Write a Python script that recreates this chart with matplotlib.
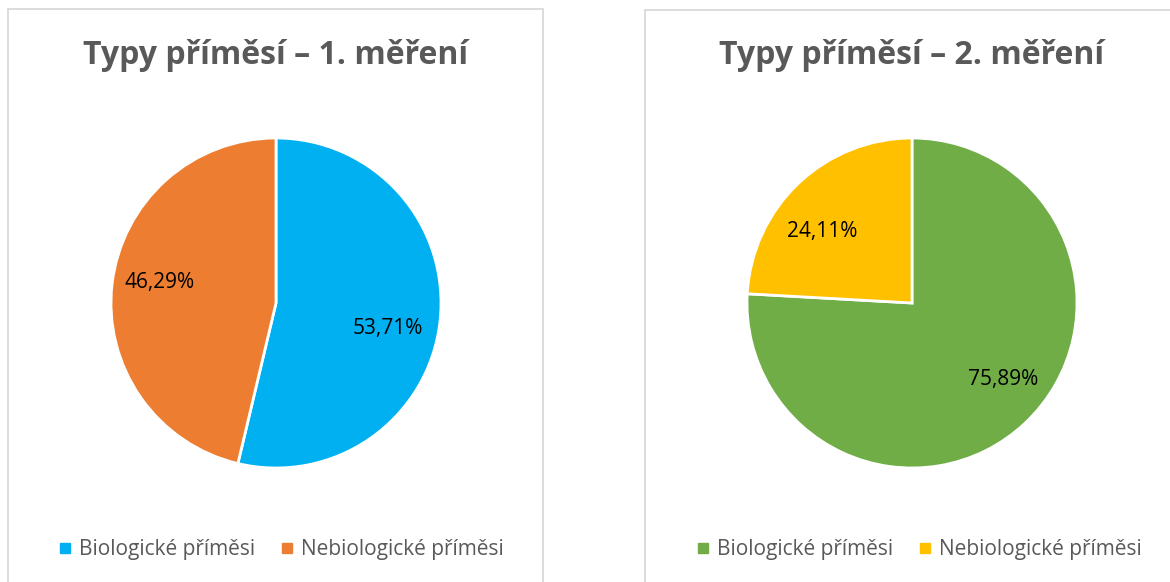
import matplotlib
matplotlib.use("Agg")
import matplotlib.pyplot as plt
from matplotlib.patches import Rectangle
from matplotlib.lines import Line2D
import numpy as np

titles = ["Typy příměsí – 1. měření", "Typy příměsí – 2. měření"]
categories = ["Biologické příměsi", "Nebiologické příměsi"]
values_1 = [53.71, 46.29]
values_2 = [75.89, 24.11]
labels_1 = ["53,71%", "46,29%"]
labels_2 = ["75,89%", "24,11%"]
colors_1 = ["#00B0F0", "#ED7D31"]
colors_2 = ["#70AD47", "#FFC000"]

W, H = 1170, 582
fig = plt.figure(figsize=(W / 100, H / 100), dpi=100)
plt.rcParams['font.family'] = ['Open Sans', 'DejaVu Sans']

def px_rect(x0, y0, x1, y1):
    return [x0 / W, 1 - y1 / H, (x1 - x0) / W, (y1 - y0) / H]

# panel borders
for (x0, y0, x1, y1) in [(8, 9, 543, 600), (645, 10, 1190, 600)]:
    fig.patches.append(Rectangle((x0 / W, 1 - y1 / H), (x1 - x0) / W, (y1 - y0) / H,
                                 transform=fig.transFigure, fill=False,
                                 edgecolor="#D9D9D9", linewidth=1.3))

panels = [
    dict(cx=276, vals=values_1, labs=labels_1, cols=colors_1, title=titles[0],
         dists=[0.696, 0.72], offs=[-5.9, -3.5], title_x=276, leg_x=282),
    dict(cx=912, vals=values_2, labs=labels_2, cols=colors_2, title=titles[1],
         dists=[0.719, 0.695], offs=[6.7, 8.3], title_x=912, leg_x=920),
]

for p in panels:
    cx, cy, r = p["cx"], 303, 165
    ax = fig.add_axes(px_rect(cx - r, cy - r, cx + r, cy + r))
    wedges, _ = ax.pie(p["vals"], colors=p["cols"], startangle=90, counterclock=False,
                       radius=1.0, wedgeprops=dict(edgecolor="white", linewidth=2))
    for w, lab, d, o in zip(wedges, p["labs"], p["dists"], p["offs"]):
        ang = np.deg2rad((w.theta1 + w.theta2) / 2 + o)
        ax.text(d * np.cos(ang), d * np.sin(ang), lab, ha="center", va="center",
                fontsize=15, color="black")
    ax.set_xlim(-1, 1)
    ax.set_ylim(-1, 1)
    ax.set_aspect("equal")
    ax.axis("off")

    fig.text(p["title_x"] / W, 1 - 56 / H, p["title"], ha="center", va="center",
             fontsize=23, fontweight="bold", color="#595959")

    handles = [Line2D([], [], marker="s", linestyle="none", markersize=7,
                      markerfacecolor=c, markeredgecolor=c) for c in p["cols"]]
    fig.legend(handles, categories, loc="center", bbox_to_anchor=(p["leg_x"] / W, 1 - 550 / H),
               ncol=2, frameon=False, fontsize=15, labelcolor="#595959",
               handlelength=0.5, handletextpad=0.4, columnspacing=1.3,
               borderpad=0, borderaxespad=0)

fig.savefig("out.png", dpi=100)
